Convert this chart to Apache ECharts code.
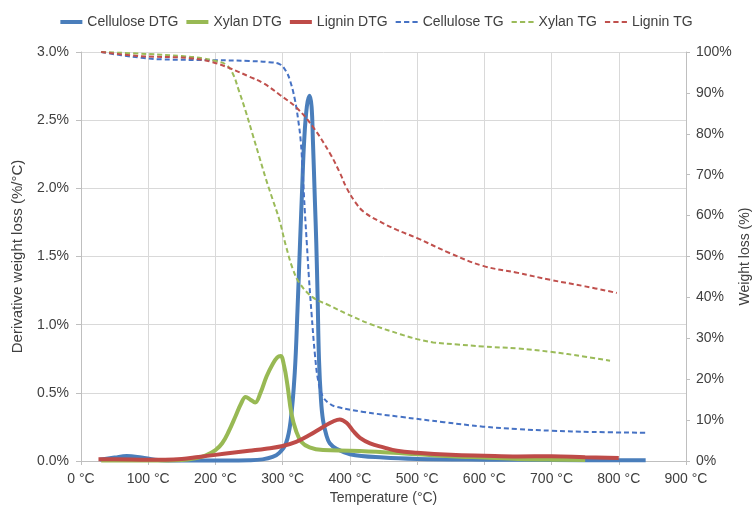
<!DOCTYPE html>
<html><head><meta charset="utf-8">
<script src="https://cdn.jsdelivr.net/npm/echarts@6/dist/echarts.min.js"></script>
<style>html,body{margin:0;padding:0;background:#fff}#c{width:753px;height:510px}</style>
</head><body><div id="c"></div>
<script>
// Temperature (°C), value pairs
const celluloseDTG = [[28,0.01],[50,0.025],[68,0.036],[90,0.025],[110,0.01],[130,0.004],[150,0.003],[200,0.004],[250,0.006],[270,0.012],[285,0.03],[295,0.06],[305,0.13],[312,0.3],[318,0.65],[322,1.1],[326,1.62],[329,2.0],[332,2.35],[336,2.6],[340,2.68],[343,2.6],[345,2.35],[348,1.9],[350,1.6],[352,1.2],[354,0.75],[357,0.45],[360,0.3],[365,0.19],[370,0.13],[380,0.09],[400,0.05],[450,0.025],[500,0.015],[600,0.01],[700,0.008],[800,0.005],[840,0.005]];
const xylanDTG = [[30,0.004],[100,0.004],[150,0.008],[170,0.02],[185,0.04],[200,0.08],[210,0.13],[220,0.22],[230,0.33],[238,0.42],[245,0.47],[252,0.45],[259,0.43],[267,0.5],[276,0.62],[285,0.71],[292,0.76],[297,0.77],[302,0.7],[307,0.56],[313,0.35],[320,0.22],[328,0.14],[340,0.1],[360,0.08],[400,0.075],[450,0.065],[500,0.05],[550,0.035],[600,0.025],[650,0.015],[700,0.01],[750,0.008]];
const ligninDTG = [[26,0.012],[50,0.013],[100,0.01],[125,0.01],[150,0.015],[175,0.03],[200,0.045],[225,0.06],[250,0.075],[275,0.09],[300,0.11],[320,0.14],[340,0.19],[360,0.25],[375,0.29],[385,0.305],[395,0.28],[405,0.22],[415,0.17],[430,0.13],[450,0.1],[470,0.075],[500,0.06],[550,0.045],[600,0.038],[650,0.033],[700,0.035],[750,0.028],[800,0.022]];
const celluloseTG = [[30,100],[60,99.2],[90,98.6],[120,98.2],[200,98],[250,97.8],[280,97.5],[296,97],[305,95.3],[311,93],[318,88.5],[323,83.5],[327,78],[330,70],[333,61],[336,53],[339,45],[343,36],[348,26],[353,19.5],[360,15.7],[370,14],[381,13.2],[420,12],[475,10.8],[540,9.5],[598,8.4],[650,7.8],[700,7.4],[760,7.1],[840,6.9]];
const xylanTG = [[30,100],[100,99.5],[150,99],[180,98.5],[200,97.8],[215,97],[225,95],[235,90.5],[245,85.5],[255,80],[265,74.5],[275,69],[285,64],[295,59],[305,52.5],[315,47],[325,43.5],[345,40],[370,38],[395,36],[430,33.5],[475,31],[500,29.8],[524,29],[560,28.5],[598,28],[650,27.5],[698,26.7],[750,25.5],[787,24.5]];
const ligninTG = [[30,100],[88,99],[162,98.5],[196,97.5],[222,96],[250,94],[271,92.4],[296,89.5],[321,86.3],[345,81.7],[370,75.3],[385,70.5],[395,66.8],[408,63.3],[420,61],[445,58.5],[470,56.5],[500,54.5],[549,50.8],[598,47.7],[650,46],[698,44.3],[750,42.7],[797,41.1]];
const seriesNames = ['Cellulose DTG','Xylan DTG','Lignin DTG','Cellulose TG','Xylan TG','Lignin TG'];

const FONT = "'Liberation Sans',Arial,sans-serif";
const TXT = '#404040';
const SOLID = 'path://M0,3h22v4h-22z';
const DASH = 'path://M0,4h5v2h-5zM8,4h5v2h-5zM16,4h5v2h-5z';
const chart = echarts.init(document.getElementById('c'));
const dtg = (name, data, color) => ({name, type:'line', data, yAxisIndex:0, showSymbol:false, symbol:'none', smooth:0.4, lineStyle:{width:4, color}, itemStyle:{color}});
const tg = (name, data, color) => ({name, type:'line', data, yAxisIndex:1, showSymbol:false, symbol:'none', smooth:0.4, lineStyle:{width:2, color, type:[5,3]}, itemStyle:{color}});
chart.setOption({
  animation:false,
  textStyle:{fontFamily:FONT},
  legend:{top:10, left:'center', itemWidth:22, itemHeight:10, itemGap:8,
    textStyle:{fontFamily:FONT, fontSize:14, color:TXT},
    data:seriesNames.map((n,i)=>({name:n, icon: i<3 ? SOLID : DASH}))},
  grid:{left:81, right:67, top:52, bottom:49, containLabel:false, outerBoundsMode:'none'},
  xAxis:{type:'value', min:0, max:900, interval:100,
    name:'Temperature (°C)', nameLocation:'middle', nameGap:30, nameMoveOverlap:false,
    nameTextStyle:{fontFamily:FONT, fontSize:14, color:TXT},
    axisLine:{lineStyle:{color:'#bfbfbf'}}, axisTick:{show:true, length:4, lineStyle:{color:'#bfbfbf'}},
    axisLabel:{formatter:v=>v+' °C', fontFamily:FONT, fontSize:14, color:TXT, margin:11},
    splitLine:{show:true, lineStyle:{color:'#d9d9d9'}}},
  yAxis:[
    {type:'value', min:0, max:3, interval:0.5,
     name:'Derivative weight loss (%/°C)', nameLocation:'middle', nameGap:56, nameRotate:90,
     nameTextStyle:{fontFamily:FONT, fontSize:15, color:TXT},
     axisLine:{show:true, lineStyle:{color:'#bfbfbf'}}, axisTick:{show:true, length:5, lineStyle:{color:'#bfbfbf'}},
     axisLabel:{formatter:v=>v.toFixed(1)+'%', fontFamily:FONT, fontSize:14, color:TXT, margin:12},
     splitLine:{show:true, lineStyle:{color:'#d9d9d9'}}},
    {type:'value', min:0, max:100, interval:10, position:'right',
     name:'Weight loss (%)', nameLocation:'middle', nameGap:52, nameRotate:90, nameMoveOverlap:false,
     nameTextStyle:{fontFamily:FONT, fontSize:14, color:TXT},
     axisLine:{show:true, lineStyle:{color:'#bfbfbf'}}, axisTick:{show:true, length:4, lineStyle:{color:'#bfbfbf'}},
     axisLabel:{formatter:v=>v+'%', fontFamily:FONT, fontSize:14, color:TXT, margin:10},
     splitLine:{show:false}}
  ],
  series:[
    dtg(seriesNames[0], celluloseDTG, '#4A7EBB'),
    dtg(seriesNames[1], xylanDTG, '#98B954'),
    dtg(seriesNames[2], ligninDTG, '#BE4B48'),
    tg(seriesNames[3], celluloseTG, '#4672C4'),
    tg(seriesNames[4], xylanTG, '#9BBB59'),
    tg(seriesNames[5], ligninTG, '#C0504D')
  ]
});
</script></body></html>
